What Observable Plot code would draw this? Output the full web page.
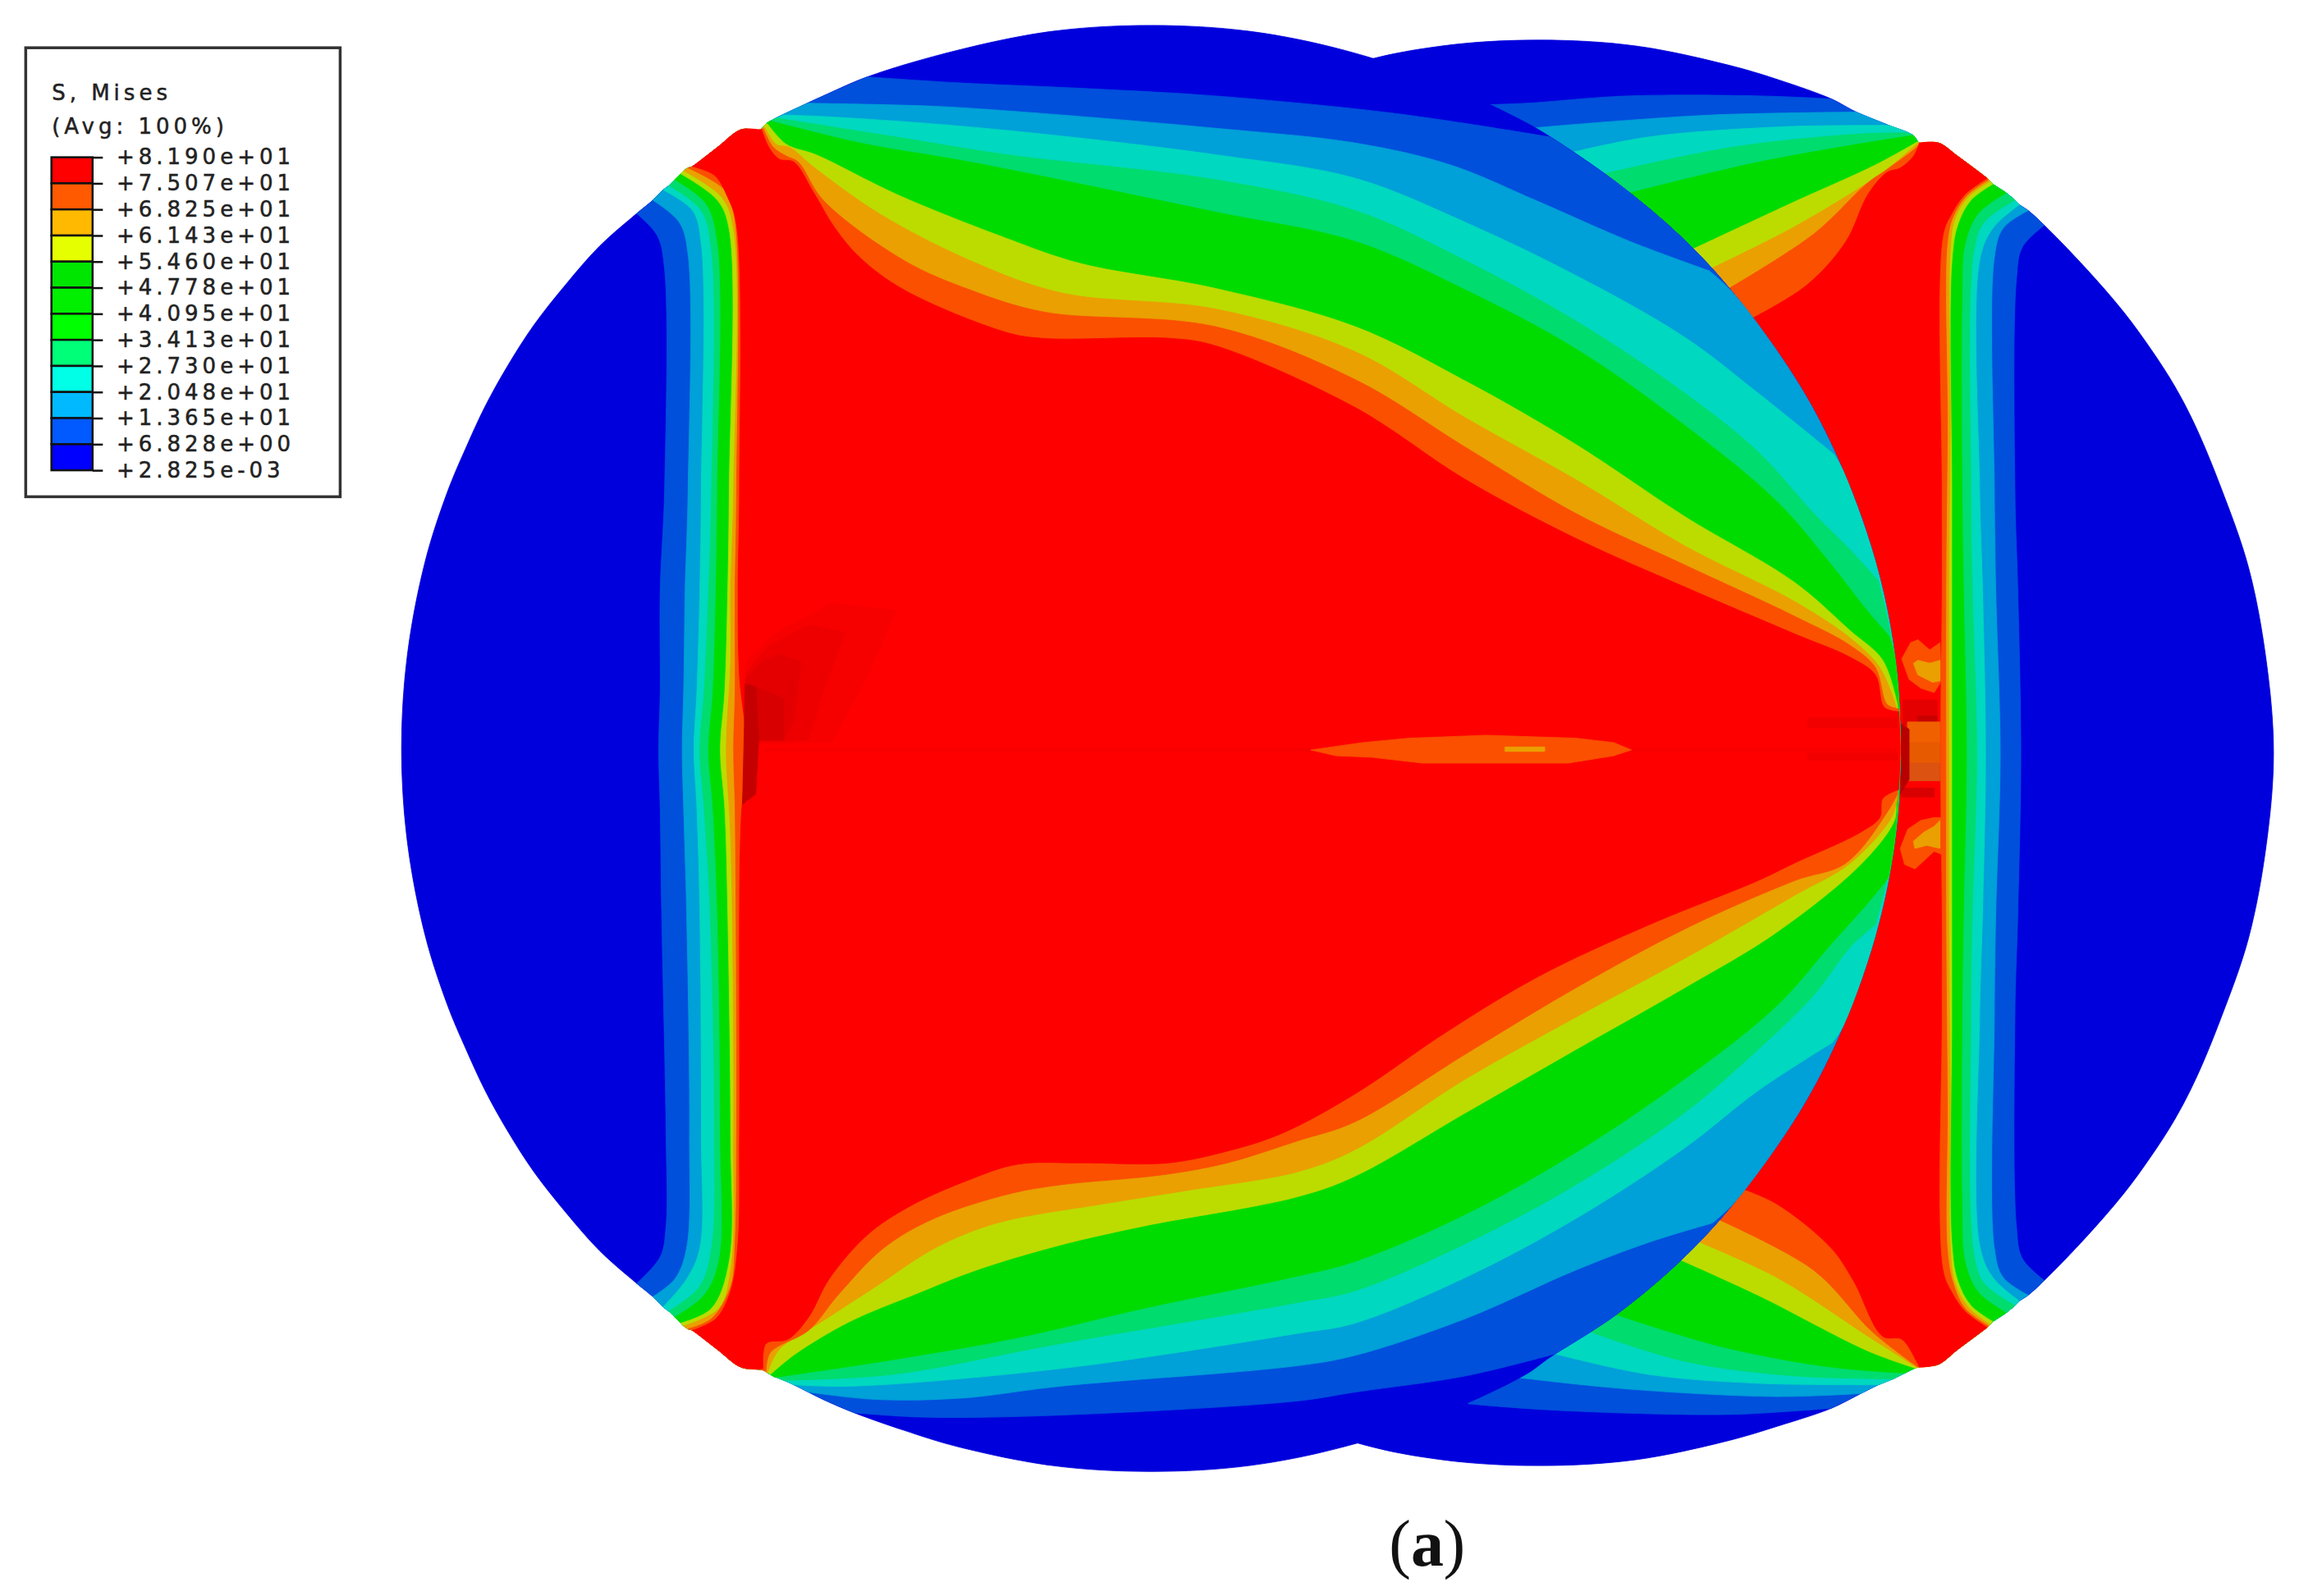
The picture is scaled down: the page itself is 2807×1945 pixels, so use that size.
<!DOCTYPE html>
<html><head><meta charset="utf-8">
<style>html,body{margin:0;padding:0;background:#fff}svg{display:block}
g[font-family="DejaVu Sans"]{letter-spacing:5px}</style>
<script src="https://cdn.jsdelivr.net/npm/d3@7"></script>
<script src="https://cdn.jsdelivr.net/npm/@observablehq/plot@0.6"></script>
</head><body><div id="chart"></div>
<script>
// --- legend content
const legendTitle = ["S, Mises", "(Avg: 100%)"];
const legendLabels = ["+8.190e+01","+7.507e+01","+6.825e+01","+6.143e+01","+5.460e+01","+4.778e+01","+4.095e+01","+3.413e+01","+2.730e+01","+2.048e+01","+1.365e+01","+6.828e+00","+2.825e-03"];
const legendColors = ["#ff0000","#ff5a00","#ffb900","#e6ff00","#00e600","#00f000","#00ff00","#00ff78","#00ffe6","#00b9ff","#005aff","#0000ff"];
// --- contour colours as they appear on the model (outer to inner)
const diskColor = "#0000dc";
const bandColors = ["#0050dc","#00a0d8","#00d8c0","#00dc6e","#00dc00","#bcdc00","#eaa000","#fa5000","#ff0000"];
// --- left disk rim and front arc (reference units 1568 x 1086)
const rimTop = [[408,167],[433,145],[444,136],[451,129],[455,126],[459,122],[463,118],[465,116],[468,114],[471,113],[488,100],[504,88],[517,88],[521,84],[547,71],[560,65],[590,52]];
const rimBot = [[408,851],[433,873],[444,882],[451,889],[455,892],[459,896],[463,900],[465,902],[468,904],[471,905],[488,918],[504,930],[519,932],[524,935],[538,941],[560,952],[581,961]];
const arc = [[1055,93],[1100,124],[1144,161],[1180,200],[1225,263],[1254,320],[1276,382],[1289,445],[1293,509],[1289,573],[1276,636],[1254,698],[1225,755],[1180,818],[1144,857],[1100,894],[1055,923]];
const leftCap = [[651,34],[716,21],[783,17],[850,21],[915,34],[978,55],[1038,83]];
const leftBase = [[1038,935],[978,963],[915,984],[850,997],[783,1001],[716,997],[651,984],[615,973]];
const leftSide = [[385,193],[363,221],[345,249],[330,276],[317,304],[304,335],[289,382],[277,445],[273,509],[277,573],[289,636],[304,683],[317,714],[330,742],[345,769],[363,797],[385,825]];
// --- left disk contours: top fan, bottom fan, vertical band
const leftTop = [
 [[590,52],[651,56],[740,60],[827,65],[950,77],[1055,93]],
 [[550,70],[635,72],[710,77],[827,87],[922,97],[987,112],[1047,137],[1109,164],[1163,184]],
 [[533,78],[560,79],[635,84],[710,91],[827,105],[922,121],[997,151],[1072,187],[1146,229],[1196,267],[1248,309]],
 [[528,80],[610,93],[685,105],[827,122],[922,143],[997,177],[1072,218],[1146,267],[1196,307],[1234,349],[1259,374],[1278,395]],
 [[524,82],[585,97],[660,110],[827,144],[922,164],[997,197],[1072,237],[1146,289],[1209,341],[1246,384],[1271,416],[1285,432]],
 [[522,84],[535,98],[555,105],[610,132],[685,162],[735,179],[827,196],[922,222],[997,259],[1072,302],[1146,351],[1221,396],[1259,429],[1281,449],[1291,479]],
 [[520,86],[528,98],[537,100],[553,113],[598,145],[660,177],[722,199],[827,210],[922,239],[997,284],[1072,326],[1146,371],[1221,409],[1259,434],[1279,454],[1290,480]],
 [[519,87],[526,100],[535,106],[543,110],[560,136],[615,177],[660,197],[710,212],[827,222],[922,258],[997,304],[1072,349],[1146,384],[1221,419],[1259,439],[1276,454],[1284,479],[1292,482]],
 [[518,88],[523,100],[530,108],[540,110],[553,130],[568,155],[585,175],[615,197],[685,226],[710,230],[797,230],[827,235],[922,277],[997,326],[1072,366],[1146,399],[1221,431],[1259,447],[1276,459],[1282,481],[1292,484]]
];
const leftBottom = [
 [[581,961],[627,964],[712,963],[883,953],[922,947],[997,936],[1058,921]],
 [[550,947],[596,952],[655,951],[721,943],[883,929],[922,922],[997,897],[1072,864],[1122,845],[1165,832]],
 [[540,942],[578,943],[721,931],[883,907],[922,900],[997,869],[1072,829],[1146,781],[1196,742],[1247,709]],
 [[533,939],[607,935],[721,914],[883,886],[922,878],[997,846],[1072,806],[1146,757],[1196,714],[1234,677],[1259,644],[1276,629]],
 [[527,937],[607,925],[692,910],[778,890],[883,868],[922,858],[997,826],[1072,784],[1146,734],[1209,684],[1246,642],[1271,614],[1285,597]],
 [[524,935],[541,921],[578,899],[621,881],[664,864],[721,847],[778,834],[883,814],[922,800],[997,757],[1072,714],[1146,672],[1209,634],[1267,587],[1289,558],[1290,546]],
 [[522,934],[530,918],[559,899],[596,875],[636,849],[678,832],[750,819],[806,810],[883,797],[922,782],[997,734],[1072,692],[1146,652],[1221,609],[1259,587],[1287,556],[1291,543]],
 [[521,933],[524,920],[550,905],[570,881],[601,849],[635,829],[687,812],[721,806],[792,799],[835,791],[883,776],[922,763],[997,717],[1072,672],[1146,632],[1221,599],[1256,587],[1285,551],[1291,540]],
 [[519,931],[521,914],[536,911],[550,896],[564,870],[590,840],[618,821],[658,803],[692,792],[735,791],[795,791],[835,783],[872,771],[922,744],[984,702],[1047,664],[1122,629],[1196,599],[1221,587],[1266,566],[1279,556],[1281,543],[1292,537]]
];
const leftBand = [
 [[433,145],[447,160],[452,183],[452,333],[449,402],[449,470],[448,510],[449,550],[450,620],[453,771],[453,834],[449,855],[433,873]],
 [[444,136],[462,151],[468,173],[468,333],[466,402],[465,470],[464,510],[465,550],[467,620],[469,771],[467,849],[459,870],[444,882]],
 [[451,129],[471,143],[477,166],[477,333],[476,402],[474,470],[472,510],[474,550],[476,620],[477,771],[476,849],[467,870],[451,889]],
 [[455,126],[477,143],[484,171],[484,333],[482,402],[479,470],[476,510],[479,550],[483,620],[486,771],[484,849],[476,875],[455,892]],
 [[459,122],[480,138],[488,164],[488,333],[487,402],[485,470],[482,510],[485,550],[488,620],[490,771],[489,858],[479,881],[459,896]],
 [[463,118],[488,136],[496,156],[496,333],[495,402],[493,470],[490,510],[493,550],[495,620],[497,771],[496,858],[484,890],[463,900]],
 [[465,116],[491,134],[499,156],[499,333],[497,402],[497,450],[494,510],[497,570],[499,771],[497,864],[489,890],[465,902]],
 [[468,114],[494,130],[500,150],[501,333],[500,402],[500,470],[499,510],[500,550],[501,771],[500,845],[497,875],[484,897],[468,904]],
 [[471,113],[486,119],[495,134],[501,153],[503,333],[502,402],[503,460],[508,510],[504,560],[503,771],[502,845],[497,878],[487,897],[471,905]]
];
// --- right disk rim and contours (the part left of the front arc is hidden by the left disk)
const rRimTop = [[1246,67],[1263,76],[1285,85],[1302,92],[1306,97],[1319,97],[1332,106],[1352,121],[1353,122],[1354,123],[1356,125],[1365,131],[1371,136],[1374,139],[1380,143],[1391,153]];
const rRimBot = [[1246,958],[1266,948],[1278,942],[1288,938],[1296,934],[1305,930],[1319,928],[1332,918],[1352,903],[1353,902],[1354,901],[1356,899],[1365,893],[1371,888],[1374,885],[1380,881],[1391,871]];
const rightOuter = [[1419,842],[1445,812],[1464,786],[1480,761],[1494,734],[1511,693],[1530,638],[1542,575],[1547,512],[1542,449],[1530,386],[1511,331],[1494,290],[1480,263],[1464,238],[1445,212],[1419,182]];
const rightCap = [[918,44],[981,31],[1047,27],[1113,31],[1176,44],[1210,54]];
const rightBase = [[1210,970],[1176,980],[1113,993],[1047,997],[981,993],[918,980]];
const hidden = [1000,512];
const rightTop = [
 [[1010,71],[1038,70],[1107,65],[1198,65],[1246,67]],
 [[1041,87],[1064,85],[1164,78],[1263,76]],
 [[1067,104],[1121,93],[1212,86],[1285,85]],
 [[1087,119],[1178,100],[1263,91],[1296,90]],
 [[1105,132],[1192,111],[1263,98],[1301,92]],
 [[1148,171],[1221,137],[1276,112],[1305,96]],
 [[1161,184],[1221,154],[1281,117],[1305,97]],
 [[1173,198],[1234,159],[1271,124],[1284,115],[1305,99],[1306,97]],
 [[1189,218],[1229,194],[1256,164],[1271,132],[1284,117],[1293,114],[1302,106],[1306,97]]
];
const rightBottom = [
 [[999,955],[1052,959],[1134,962],[1184,962],[1246,958]],
 [[1032,937],[1109,945],[1209,950],[1266,948]],
 [[1058,921],[1122,935],[1196,941],[1278,942]],
 [[1082,906],[1146,926],[1221,936],[1288,938]],
 [[1099,894],[1171,916],[1246,930],[1296,934]],
 [[1141,856],[1196,881],[1271,919],[1304,931]],
 [[1154,844],[1209,869],[1271,909],[1304,930]],
 [[1166,828],[1234,864],[1274,906],[1305,930]],
 [[1184,808],[1209,819],[1246,849],[1261,871],[1281,909],[1294,911],[1304,926],[1306,930]]
];
const rightBand = [
 [[1391,153],[1376,168],[1372,190],[1371,333],[1373,402],[1375,514],[1373,620],[1371,691],[1372,834],[1376,856],[1391,871]],
 [[1380,143],[1363,155],[1357,175],[1357,333],[1358,402],[1361,514],[1358,620],[1357,691],[1357,849],[1363,869],[1380,881]],
 [[1374,139],[1356,155],[1347,177],[1347,333],[1349,402],[1351,514],[1349,620],[1347,691],[1347,847],[1356,869],[1374,885]],
 [[1371,136],[1350,151],[1343,171],[1341,333],[1342,402],[1345,514],[1342,620],[1341,691],[1343,853],[1350,873],[1371,888]],
 [[1365,131],[1346,145],[1337,166],[1335,205],[1335,333],[1336,402],[1338,514],[1336,620],[1335,691],[1335,819],[1337,858],[1346,879],[1365,893]],
 [[1356,125],[1341,136],[1332,153],[1328,179],[1328,333],[1328,402],[1328,514],[1328,620],[1328,691],[1328,845],[1332,871],[1341,888],[1356,899]],
 [[1354,123],[1339,134],[1330,149],[1327,170],[1327,290],[1326,402],[1326,514],[1326,620],[1327,754],[1327,848],[1330,872],[1339,889],[1354,901]],
 [[1353,122],[1338,133],[1329,147],[1325,165],[1325,290],[1324,402],[1324,514],[1324,620],[1325,754],[1325,850],[1329,873],[1337,890],[1353,902]],
 [[1352,121],[1337,132],[1328,145],[1322,160],[1321,333],[1321,402],[1320,514],[1321,620],[1321,691],[1322,864],[1328,879],[1337,892],[1352,903]]
];
// --- local details behind the left disk (near the contact on the right)
const rightDetails = [
 {c:"#fa5000",p:[[1294,448],[1300,437],[1305,435],[1313,442],[1320,437],[1321,463],[1316,471],[1307,468],[1299,462]]},
 {c:"#eaa000",p:[[1302,451],[1305,449],[1313,451],[1320,449],[1320,463],[1315,464],[1305,459]]},
 {c:"#fa5000",p:[[1293,577],[1298,564],[1307,558],[1316,556],[1321,556],[1321,581],[1316,579],[1303,591],[1296,588]]},
 {c:"#eaa000",p:[[1302,572],[1309,566],[1316,562],[1320,558],[1320,577],[1311,575],[1303,577]]},
 {c:"#e40000",p:[[1295,476],[1318,476],[1318,493],[1295,493]]},
 {c:"#c80000",p:[[1305,487],[1318,487],[1318,493],[1305,493]]},
 {c:"#f06000",p:[[1298,491],[1320,491],[1320,505],[1298,505]]},
 {c:"#e85a00",p:[[1298,505],[1320,505],[1320,519],[1298,519]]},
 {c:"#dc5210",p:[[1298,519],[1320,519],[1320,531],[1298,531]]},
 {c:"#d80000",p:[[1294,536],[1316,536],[1316,542],[1294,542]]},
 {c:"#b80000",p:[[1293,492],[1299,496],[1299,530],[1293,540]]}
];
// --- local details on the left disk
const leftDetails = [
 {c:"#f70000",p:[[507,450],[525,432],[566,410],[610,415],[590,460],[566,505],[516,506],[510,550]]},
 {c:"#ee0000",p:[[507,458],[522,440],[550,425],[575,430],[560,470],[550,503],[516,504]]},
 {c:"#e40000",p:[[507,462],[518,450],[530,445],[545,450],[540,490],[533,504],[516,504]]},
 {c:"#d80000",p:[[514,467],[533,475],[533,503],[516,503]]},
 {c:"#c40000",p:[[507,465],[514,467],[516,504],[514,540],[505,547],[506,506]]},
 {c:"#f60000",p:[[520,509],[892,509],[892,511],[520,511]]},
 {c:"#f60000",p:[[1110,509],[1290,509],[1290,511],[1110,511]]},
 {c:"#f20000",p:[[1230,488],[1291,488],[1291,495],[1230,495]]},
 {c:"#f20000",p:[[1230,512],[1291,512],[1291,517],[1230,517]]},
 {c:"#fa5000",p:[[892,510],[927,505],[959,502],[1011,500],[1072,502],[1098,505],[1110,510],[1098,514],[1067,519],[968,519],[933,515],[909,514]]},
 {c:"#eaa000",p:[[1024,508],[1051,508],[1051,511],[1024,511]]}
];
const captionRegular = [{t:"(",x:945},{t:")",x:982}];
const captionBold = [{t:"a",x:960}];

// --- ring builders
const dup = p => [p, p];
const between = (list, a, b, i) => list.filter(p => p[i] > a + 0.5 && p[i] < b - 0.5);
function leftRing(k) {
  const t = leftTop[k], b = leftBottom[k], s = leftBand[k];
  return [
    ...dup(s[s.length - 1]), ...s.slice(1, -1).reverse(), ...dup(s[0]),
    ...between(rimTop, s[0][0], t[0][0], 0),
    ...dup(t[0]), ...t.slice(1, -1), ...dup(t[t.length - 1]),
    ...between(arc, t[t.length - 1][1], b[b.length - 1][1], 1),
    ...dup(b[b.length - 1]), ...b.slice(1, -1).reverse(), ...dup(b[0]),
    ...between(rimBot, s[s.length - 1][0], b[0][0], 0).reverse()
  ];
}
function rightRing(k) {
  const t = rightTop[k], b = rightBottom[k], s = rightBand[k];
  return [
    ...dup(hidden),
    ...dup(t[0]), ...t.slice(1, -1), ...dup(t[t.length - 1]),
    ...between(rRimTop, t[t.length - 1][0], s[0][0], 0),
    ...dup(s[0]), ...s.slice(1, -1), ...dup(s[s.length - 1]),
    ...between(rRimBot, b[b.length - 1][0], s[s.length - 1][0], 0).reverse(),
    ...dup(b[b.length - 1]), ...b.slice(1, -1).reverse(), ...dup(b[0])
  ];
}
const rightOutline = [...rightOuter, ...rRimTop.slice().reverse(), ...rightCap.slice().reverse(), [797,92],[790,512],[797,932], ...rightBase.slice().reverse(), ...rRimBot];
const leftOutline = [...arc.slice(0, 9).reverse(), ...leftCap.slice().reverse(), ...rimTop.slice().reverse(), ...leftSide, ...rimBot, ...leftBase.slice().reverse(), ...arc.slice(9).reverse()];

const poly = (pts, color, curve = "catmull-rom-closed") =>
  Plot.line(pts, {x: d => d[0], y: d => d[1], fill: color, stroke: color, strokeWidth: 0.8, curve});

const marks = [];
marks.push(poly(rightOutline, diskColor));
bandColors.forEach((c, k) => marks.push(poly(rightRing(k), c)));
rightDetails.forEach(d => marks.push(poly(d.p, d.c, "linear-closed")));
marks.push(poly(leftOutline, diskColor));
bandColors.forEach((c, k) => marks.push(poly(leftRing(k), c)));
leftDetails.forEach(d => marks.push(poly(d.p, d.c, "linear-closed")));

// --- legend
const rowY = i => 107 + i * 17.75;
marks.push(Plot.rect([{}], {x1: () => 17.5, x2: () => 231.5, y1: () => 32.5, y2: () => 338, fill: "white", stroke: "#333", strokeWidth: 3.5}));
marks.push(Plot.rect(legendColors, {x1: () => 35, x2: () => 63, y1: (d, i) => rowY(i), y2: (d, i) => rowY(i + 1), fill: d => d, stroke: "#111", strokeWidth: 2.5}));
marks.push(Plot.ruleY(legendLabels, {y: (d, i) => rowY(i), x1: () => 63, x2: () => 70, stroke: "#111", strokeWidth: 2.5}));
const legendFont = {fontFamily: "DejaVu Sans", fontSize: 26, textAnchor: "start", fill: "#222", stroke: "#222", strokeWidth: 0.5};
marks.push(Plot.text(legendLabels, {x: () => 79, y: (d, i) => rowY(i), text: d => d, ...legendFont}));
marks.push(Plot.text(legendTitle, {x: () => 35, y: (d, i) => 63 + i * 23, text: d => d, ...legendFont}));
// --- caption
const capFont = {y: () => 1051, fontFamily: "Liberation Serif", fontSize: 80, textAnchor: "start", fill: "#111"};
marks.push(Plot.text(captionRegular, {x: d => d.x, text: d => d.t, ...capFont}));
marks.push(Plot.text(captionBold, {x: d => d.x, text: d => d.t, fontWeight: "bold", ...capFont}));

const plot = Plot.plot({
  width: 2807, height: 1945,
  marginLeft: 0, marginRight: 0, marginTop: 0, marginBottom: 0,
  x: {domain: [0, 1568], range: [0, 2807], axis: null},
  y: {domain: [0, 1086], range: [0, 1945], axis: null},
  style: {background: "white"},
  marks
});
document.getElementById("chart").append(plot);
</script></body></html>
